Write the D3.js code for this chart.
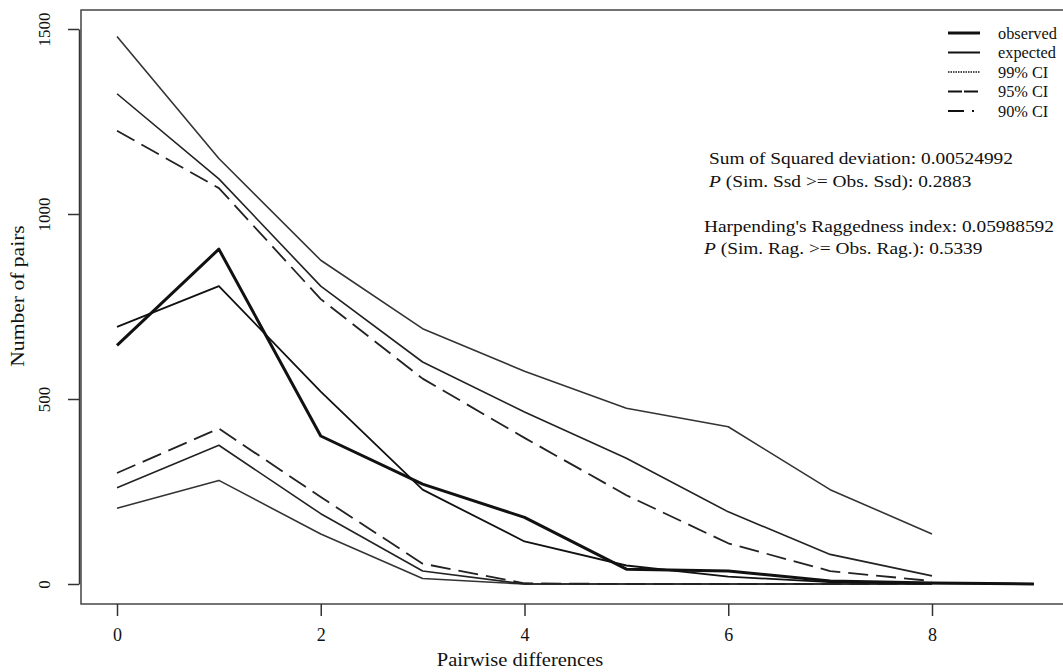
<!DOCTYPE html>
<head>
	<meta charset="utf-8">
	<script src="https://d3js.org/d3.v7.min.js"></script>
	<style>
	    body { margin: 0; background: white; }
	    text { font-family: "Liberation Serif", "DejaVu Serif", serif; fill: #111; }
	</style>
</head>
<body>
    <script>
        // pairwise differences (x) and the number of pairs for each curve
        var diffs = [0, 1, 2, 3, 4, 5, 6, 7, 8, 9];

        var observed = [645, 905, 400, 270, 180, 40, 35, 8, 3, 0];
        var expected = [695, 805, 520, 255, 115, 50, 20, 5, 2, 0];

        var upper99 = [1480, 1150, 875, 690, 575, 475, 425, 255, 135];
        var upper95 = [1325, 1095, 805, 600, 465, 340, 195, 80, 22];
        var upper90 = [1225, 1070, 770, 555, 395, 240, 110, 35, 8];
        var lower90 = [300, 420, 235, 55, 2, 0, 0, 0, 0];
        var lower95 = [260, 375, 190, 35, 0, 0, 0, 0, 0];
        var lower99 = [205, 280, 135, 15, 0, 0, 0, 0, 0];

        var xTicks = [0, 2, 4, 6, 8];
        var yTicks = [0, 500, 1000, 1500];

        var legendNames = ["observed", "expected", "99% CI", "95% CI", "90% CI"];

        var statLines = [
            {p: false, text: "Sum of Squared deviation: 0.00524992"},
            {p: true,  text: " (Sim. Ssd >= Obs. Ssd): 0.2883"},
            {p: false, text: ""},
            {p: false, text: "Harpending's Raggedness index: 0.05988592"},
            {p: true,  text: " (Sim. Rag. >= Obs. Rag.): 0.5339"}
        ];

        var w = 1063, h = 672;

        var svg = d3.select("body").append("svg")
            .attr("width", w)
            .attr("height", h);

        var xScale = d3.scaleLinear().domain([0, 8]).range([117, 932]);
        var yScale = d3.scaleLinear().domain([0, 1500]).range([584, 29]);

        // plot box (right side runs off the picture)
        svg.append("rect")
            .attr("x", 81).attr("y", 10)
            .attr("width", 1000).attr("height", 594)
            .attr("fill", "none")
            .attr("stroke", "#444")
            .attr("stroke-width", 1.5);

        // x axis
        var xAxis = svg.append("g")
            .attr("transform", "translate(0,604)")
            .call(d3.axisBottom(xScale).tickValues(xTicks).tickSize(12).tickPadding(12));
        xAxis.select(".domain").remove();
        xAxis.selectAll("line").attr("stroke", "#333").attr("stroke-width", 1.5);
        xAxis.selectAll("text").style("font-size", "18px")
            .style("font-family", "Liberation Serif").attr("fill", "#111");

        // y axis, labels turned like R does
        var yAxis = svg.append("g")
            .attr("transform", "translate(79,0)")
            .call(d3.axisLeft(yScale).tickValues(yTicks).tickFormat(d3.format("d"))
                .tickSize(11).tickSizeOuter(0));
        yAxis.select(".domain").attr("stroke", "#333").attr("stroke-width", 1.5);
        yAxis.selectAll("line").attr("stroke", "#333").attr("stroke-width", 1.5);
        yAxis.selectAll("text")
            .style("font-size", "17px")
            .style("font-family", "Liberation Serif")
            .attr("fill", "#111")
            .attr("text-anchor", "middle")
            .attr("x", 0)
            .attr("transform", "translate(-35,0) rotate(-90)")
            .attr("dy", "0.35em");

        svg.append("text")
            .attr("transform", "translate(520,666) scale(1.14,1)")
            .attr("text-anchor", "middle")
            .style("font-size", "18px")
            .text("Pairwise differences");

        svg.append("text")
            .attr("transform", "translate(24,296) rotate(-90) scale(1.2,1)")
            .attr("text-anchor", "middle")
            .style("font-size", "18px")
            .text("Number of pairs");

        var line = d3.line()
            .x(function(d, i) { return xScale(diffs[i]); })
            .y(function(d) { return yScale(d); });

        var curves = [
            {values: upper99, width: 1.6, dash: null, color: "#333"},
            {values: lower99, width: 1.6, dash: null, color: "#333"},
            {values: upper95, width: 1.6, dash: null, color: "#222"},
            {values: lower95, width: 1.6, dash: null, color: "#222"},
            {values: upper90, width: 1.8, dash: "20,8", color: "#222"},
            {values: lower90, width: 1.8, dash: "20,8", color: "#222"},
            {values: expected, width: 1.8, dash: null, color: "#111"},
            {values: observed, width: 3, dash: null, color: "#111"}
        ];

        svg.selectAll("path.curve")
            .data(curves)
            .enter()
            .append("path")
            .attr("class", "curve")
            .attr("d", function(d) { return line(d.values); })
            .attr("fill", "none")
            .attr("stroke", function(d) { return d.color; })
            .attr("stroke-width", function(d) { return d.width; })
            .attr("stroke-dasharray", function(d) { return d.dash; })
            .attr("stroke-linejoin", "round");

        // legend
        var legendStyles = [
            {width: 3, dash: null},
            {width: 2, dash: null},
            {width: 1.5, dash: "1.5,1"},
            {width: 1.8, dash: "14,2"},
            {width: 1.8, dash: "16,8,2,8"}
        ];

        var legend = svg.selectAll("g.legend")
            .data(legendNames)
            .enter()
            .append("g")
            .attr("class", "legend")
            .attr("transform", function(d, i) { return "translate(0," + (33 + i * 19.5) + ")"; });

        legend.append("line")
            .attr("x1", 948).attr("x2", 980)
            .attr("stroke", "#111")
            .attr("stroke-width", function(d, i) { return legendStyles[i].width; })
            .attr("stroke-dasharray", function(d, i) { return legendStyles[i].dash; });

        legend.append("text")
            .attr("transform", "translate(998,0) scale(1.02,1)")
            .attr("dy", "0.35em")
            .style("font-size", "16px")
            .text(function(d) { return d; });

        // statistics text, stretched sideways like the original
        var stats = svg.selectAll("text.stat")
            .data(statLines)
            .enter()
            .append("text")
            .attr("class", "stat")
            .attr("transform", function(d, i) {
                var x = i < 3 ? 709 : 704;
                return "translate(" + x + "," + (164 + i * 22.5) + ") scale(1.14,1)";
            })
            .style("font-size", "17px");

        stats.filter(function(d) { return d.p; })
            .append("tspan").attr("font-style", "italic").text("P");
        stats.append("tspan").attr("xml:space", "preserve").text(function(d) { return d.text; });

    </script>
<body>
